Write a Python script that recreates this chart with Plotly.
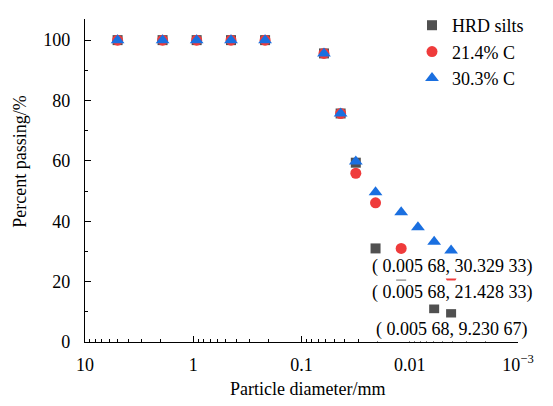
import math
import plotly.graph_objects as go

# ---- data ----
diameter_mm = [5, 1.92, 0.93, 0.448, 0.217, 0.062, 0.0435, 0.0315, 0.0207, 0.012, 0.0084, 0.00595, 0.00415]
hrd_silts   = [100, 100, 100, 100, 100, 95.6, 75.7, 59.4, 31.0, 19.0, 15.5, 11.2, 9.23]
c_21_4      = [100, 100, 100, 100, 100, 95.6, 75.7, 55.9, 46.1, 31.0, 25.8, 23.2, 21.43]
c_30_3      = [100, 100, 100, 100, 100, 95.6, 75.7, 59.8, 49.6, 43.0, 38.0, 33.2, 30.33]
series_names = ["HRD silts", "21.4% C", "30.3% C"]
label_texts = ["( 0.005 68, 30.329 33)", "( 0.005 68, 21.428 33)", "( 0.005 68, 9.230 67)"]
label_values = [30.32933, 21.42833, 9.23067]

x_tickvals = [10, 1, 0.1, 0.01, 0.001]
x_ticktext = ["10", "1", "0.1", "0.01", "10<sup>\u22123</sup>"]
x_minor = [m * 10.0 ** e for e in range(-3, 1) for m in range(2, 10)]

FONT = "Liberation Serif, Times New Roman, serif"

L, R, T, B = 85, 35, 19, 63.5
W, H = 553, 406
pw, ph = W - L - R, H - T - B

fig = go.Figure()
fig.add_trace(go.Scatter(x=diameter_mm, y=hrd_silts, mode="markers", name=series_names[0],
                         marker=dict(symbol="square", size=10, color="#505050")))
fig.add_trace(go.Scatter(x=diameter_mm, y=c_21_4, mode="markers", name=series_names[1],
                         marker=dict(symbol="circle", size=11, color="#ef3b3b")))
fig.add_trace(go.Scatter(x=diameter_mm, y=c_30_3, mode="markers", name=series_names[2],
                         marker=dict(symbol="triangle-up", size=12, color="#1a6fe0")))

annotations = []
for txt, val, ys in zip(label_texts, label_values, [-16, -15, -15.5]):
    annotations.append(dict(x=math.log10(diameter_mm[-1]), y=val, xref="x", yref="y",
                            text=txt, showarrow=False, xshift=1, yshift=ys,
                            xanchor="center", yanchor="middle",
                            bgcolor="white", font=dict(family=FONT, size=18, color="black")))
annotations.append(dict(x=(307 - L) / pw, y=(H - B - 390) / ph, xref="paper", yref="paper",
                        xanchor="center", yanchor="middle",
                        text="Particle diameter/mm", showarrow=False,
                        font=dict(family=FONT, size=18, color="black")))
annotations.append(dict(x=(20 - L) / pw, y=(H - B - 162) / ph, xref="paper", yref="paper",
                        xanchor="center", yanchor="middle",
                        text="Percent passing/%", showarrow=False, textangle=-90,
                        font=dict(family=FONT, size=18, color="black")))

fig.update_layout(
    width=W, height=H,
    margin=dict(l=L, r=R, t=T, b=B, autoexpand=False),
    paper_bgcolor="white", plot_bgcolor="white",
    font=dict(family=FONT, size=18, color="black"),
    showlegend=True,
    legend=dict(x=(529 - L) / pw, y=(H - B - 7) / ph, xanchor="right", yanchor="top",
                bgcolor="rgba(0,0,0,0)", font=dict(family=FONT, size=18),
                itemwidth=30, tracegroupgap=0),
    annotations=annotations,
)
fig.update_xaxes(type="log", range=[1, -3], showline=True, linecolor="black", linewidth=1.3,
                 mirror=False, showgrid=False, zeroline=False, automargin=False,
                 ticks="inside", ticklen=6, tickcolor="black", tickwidth=1.3,
                 tickvals=x_tickvals, ticktext=x_ticktext, ticklabelstandoff=6,
                 minor=dict(tickvals=x_minor, ticks="inside", ticklen=3, tickcolor="black",
                            tickwidth=1, showgrid=False),
                 tickfont=dict(family=FONT, size=18))
fig.update_yaxes(range=[0, 107], showline=True, linecolor="black", linewidth=1.3,
                 mirror=False, showgrid=False, zeroline=False, automargin=False,
                 ticks="inside", ticklen=6, tickcolor="black", tickwidth=1.3,
                 dtick=20, tick0=0, ticklabelstandoff=10,
                 minor=dict(dtick=10, ticks="inside", ticklen=3, tickcolor="black",
                            tickwidth=1, showgrid=False),
                 tickfont=dict(family=FONT, size=18))

fig.write_html("out.html")
